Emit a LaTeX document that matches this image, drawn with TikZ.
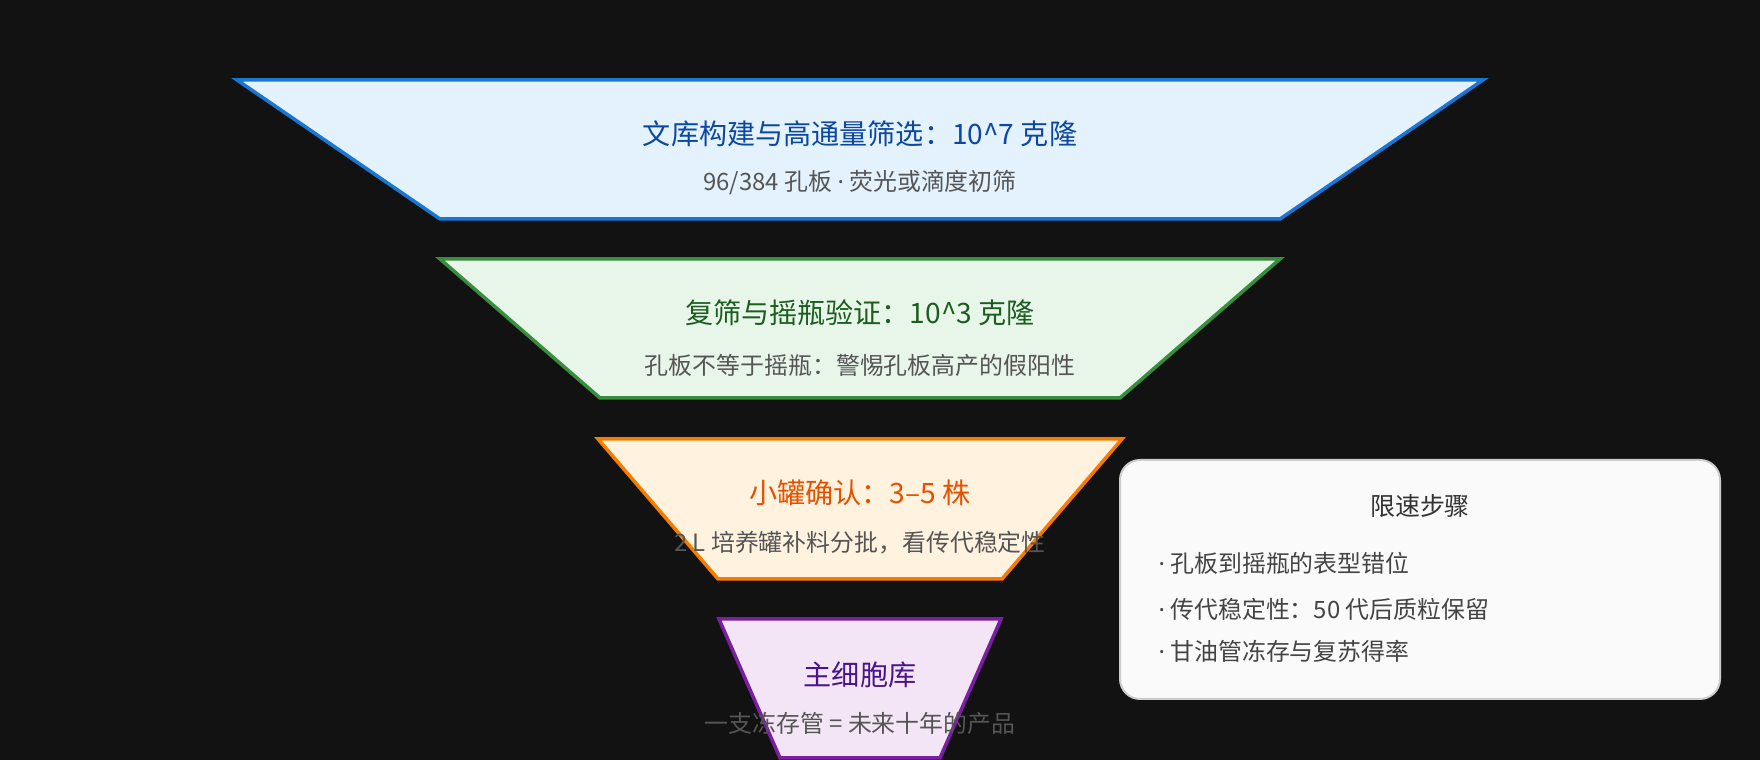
\documentclass[tikz,border=0pt]{standalone}
\usepackage{fontspec}
\setmainfont{Noto Sans CJK SC}
\newfontfamily\latinfont{Noto Sans}
\usetikzlibrary{positioning}

\definecolor{bgdark}{HTML}{121212}
\definecolor{libfill}{HTML}{E3F2FD}
\definecolor{libline}{HTML}{1976D2}
\definecolor{libtext}{HTML}{0D47A1}
\definecolor{shakefill}{HTML}{E8F5E9}
\definecolor{shakeline}{HTML}{388E3C}
\definecolor{shaketext}{HTML}{1B5E20}
\definecolor{tankfill}{HTML}{FFF3E0}
\definecolor{tankline}{HTML}{F57C00}
\definecolor{tanktext}{HTML}{E65100}
\definecolor{bankfill}{HTML}{F3E5F5}
\definecolor{bankline}{HTML}{7B1FA2}
\definecolor{banktext}{HTML}{4A148C}
\definecolor{subgray}{HTML}{555555}

\newcommand{\middot}{{\latinfont ·}}

\tikzset{
    stage/.style={line width=0.35mm, line join=miter},
    ttl/.style={font=\fontsize{8}{10}\selectfont, inner sep=0pt},
    sub/.style={font=\fontsize{6.8}{8}\selectfont, text=subgray, inner sep=0pt},
    item/.style={font=\fontsize{6.8}{8}\selectfont, text=subgray!80!black, inner sep=0pt, anchor=west}
}

\begin{document}
\begin{tikzpicture}
		% Bakgrunn
		\fill[bgdark] (0,0) rectangle (17.6,7.6);
		\useasboundingbox (0,0) rectangle (17.6,7.6);

		% Trinn 1: bibliotek
		\draw[stage, libline, fill=libfill] (2.37,6.80) -- (14.83,6.80) -- (12.80,5.41) -- (4.40,5.41) -- cycle;
		\node[ttl, text=libtext] (libT) at (8.60,6.26) {文库构建与高通量筛选：10\textasciicircum7 克隆};
		\node[sub] (libS) at (8.60,5.77) {96/384 孔板 \middot{} 荧光或滴度初筛};

		% Trinn 2: ristekolbe
		\draw[stage, shakeline, fill=shakefill] (4.40,5.01) -- (12.80,5.01) -- (11.20,3.62) -- (6.00,3.62) -- cycle;
		\node[ttl, text=shaketext] (shakeT) at (8.60,4.47) {复筛与摇瓶验证：10\textasciicircum3 克隆};
		\node[sub] (shakeS) at (8.60,3.95) {孔板不等于摇瓶：警惕孔板高产的假阳性};

		% Trinn 3: liten tank
		\draw[stage, tankline, fill=tankfill] (5.98,3.21) -- (11.22,3.21) -- (10.02,1.81) -- (7.18,1.81) -- cycle;
		\node[ttl, text=tanktext] (tankT) at (8.60,2.67) {小罐确认：3–5 株};
		\node[sub] (tankS) at (8.60,2.17) {2 L 培养罐补料分批，看传代稳定性};

		% Trinn 4: cellebank
		\draw[stage, bankline, fill=bankfill] (7.19,1.41) -- (10.01,1.41) -- (9.40,0.02) -- (7.80,0.02) -- cycle;
		\node[ttl, text=banktext] (bankT) at (8.60,0.85) {主细胞库};
		\node[sub] (bankS) at (8.60,0.37) {一支冻存管 = 未来十年的产品};

		% Merknadsboks
		\node[draw=black!20, line width=0.2mm, fill=black!2, rounded corners=0.2cm,
			minimum width=6cm, minimum height=2.39cm, inner sep=0pt] (note) at (14.20,1.805) {};
		\node[font=\fontsize{7.1}{9}\selectfont, text=black!80, inner sep=0pt] (noteT) at (14.20,2.54) {限速步骤};
		\node[item] (noteA) at (11.58,1.97) {\middot{} 孔板到摇瓶的表型错位};
		\node[item] (noteB) at (11.58,1.51) {\middot{} 传代稳定性：50 代后质粒保留};
		\node[item] (noteC) at (11.58,1.09) {\middot{} 甘油管冻存与复苏得率};
	\end{tikzpicture}
\end{document}
